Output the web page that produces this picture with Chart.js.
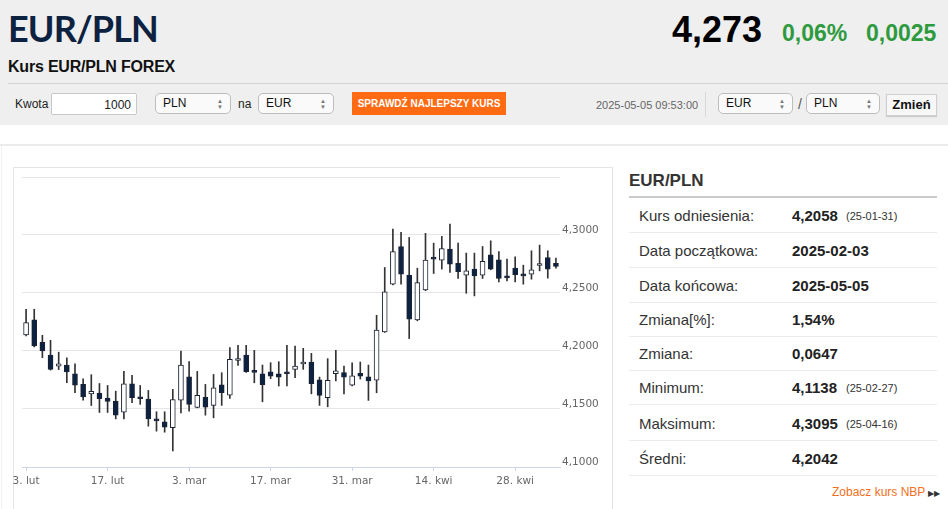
<!DOCTYPE html>
<html lang="pl">
<head>
<meta charset="utf-8">
<title>Kurs EUR/PLN FOREX</title>
<script src="https://cdn.jsdelivr.net/npm/chart.js@4.4.1/dist/chart.umd.min.js"></script>
<style>
  html, body { margin: 0; padding: 0; }
  body { width: 948px; height: 509px; position: relative; overflow: hidden; background: #fff;
         font-family: "Liberation Sans", Arial, sans-serif; color: #222; }
  .abs { position: absolute; white-space: nowrap; }
  #top { left: 0; top: 0; width: 948px; height: 125px; background: #efefef; }
  #title { left: 8px; top: 10px; font: 700 36px/1 Lato, sans-serif; letter-spacing: -0.9px; color: #0d2240; }
  #sub { left: 8px; top: 59px; font: 700 16px/1 "Liberation Sans", Arial, sans-serif; letter-spacing: -0.2px; color: #111; }
  #sep { left: 8px; top: 83px; width: 940px; height: 1px; background: #d4d4d4; }
  .lbl { font-size: 12px; line-height: 1; color: #222; }
  .box { background: #fff; border: 1px solid #c8c8c8; border-radius: 2px; box-sizing: border-box; }
  .sel { background: #fafafa; border: 1px solid #bdbdbd; border-radius: 5px; box-sizing: border-box;
         font-size: 12px; line-height: 19px; padding-left: 7px; color: #111; }
  .sel .ar { position: absolute; right: 7px; font-size: 6px; line-height: 1; color: #777; }
  .sel .up { top: 4px; }
  .sel .dn { top: 10px; }
  #btn { left: 352px; top: 92px; width: 154px; height: 23px; background: #ff6a13; color: #fff;
         font: 700 10px/23px "Liberation Sans", Arial, sans-serif; text-align: center; }
  #zm { left: 886px; top: 94px; width: 51px; height: 22px; background: #f7f7f7; border: 1px solid #cfcfcf;
        box-sizing: border-box; font: 700 13px/20px "Liberation Sans", Arial, sans-serif; text-align: center; color: #111;
        box-shadow: 0 1px 1px rgba(0,0,0,0.15); }
  #price { left: 672px; top: 12px; font: 700 36px/1 "Liberation Sans", Arial, sans-serif; color: #000; }
  .grn { top: 22px; font: 700 23px/1 "Liberation Sans", Arial, sans-serif; color: #2e9a3e; }
  #chartbox { left: 13px; top: 167px; width: 600px; height: 360px; border: 1px solid #e4e4e4; box-sizing: border-box; }
  #cwrap { left: 0px; top: 168px; width: 612px; height: 330px; }
  #ptitle { left: 629px; top: 172px; font: 700 17px/1 "Liberation Sans", Arial, sans-serif; color: #333; }
  #pline { left: 629px; top: 196px; width: 308px; height: 2px; background: #cacaca; }
  .row { left: 629px; width: 308px; height: 35px; border-bottom: 1px solid #ebebeb; box-sizing: border-box; }
  .row .k { position: absolute; left: 10px; top: 10px; font-size: 15px; line-height: 1; color: #333; }
  .row .v { position: absolute; left: 163px; top: 10px; font-size: 15px; line-height: 1; font-weight: 700; color: #222; }
  .row .d { position: absolute; left: 217px; top: 13px; font-size: 11px; line-height: 1; color: #333; }
  #nbp { left: 832px; top: 486px; font-size: 12px; line-height: 1; color: #f36f21; }
</style>
</head>
<body>
<div id="top" class="abs"></div>
<div id="title" class="abs">EUR/PLN</div>
<div id="sub" class="abs">Kurs EUR/PLN FOREX</div>
<div id="sep" class="abs"></div>

<div class="abs lbl" style="left:15px;top:98px;">Kwota</div>
<div class="abs box" style="left:51px;top:93px;width:86px;height:22px;">
  <span class="abs lbl" style="right:5px;top:5px;">1000</span>
</div>
<div class="abs sel" style="left:155px;top:93px;width:76px;height:21px;">PLN<span class="ar up">&#9650;</span><span class="ar dn">&#9660;</span></div>
<div class="abs lbl" style="left:238px;top:98px;">na</div>
<div class="abs sel" style="left:258px;top:93px;width:76px;height:21px;">EUR<span class="ar up">&#9650;</span><span class="ar dn">&#9660;</span></div>
<div id="btn" class="abs">SPRAWDŹ NAJLEPSZY KURS</div>

<div class="abs" style="left:596px;top:100px;font-size:11px;line-height:1;color:#666;">2025-05-05 09:53:00</div>
<div class="abs" style="left:705px;top:92px;width:1px;height:25px;background:#d8d8d8;"></div>
<div class="abs sel" style="left:718px;top:93px;width:75px;height:21px;">EUR<span class="ar up">&#9650;</span><span class="ar dn">&#9660;</span></div>
<div class="abs lbl" style="left:798px;top:97px;font-size:14px;color:#555;">/</div>
<div class="abs sel" style="left:806px;top:93px;width:74px;height:21px;">PLN<span class="ar up">&#9650;</span><span class="ar dn">&#9660;</span></div>
<div id="zm" class="abs">Zmień</div>

<div id="price" class="abs">4,273</div>
<div class="abs grn" style="left:782px;">0,06%</div>
<div class="abs grn" style="left:866px;">0,0025</div>

<div class="abs" style="left:0;top:144px;width:948px;height:2px;background:#ececec;"></div>
<div class="abs" style="left:1px;top:146px;width:1px;height:363px;background:#f0f0f0;"></div>
<div id="chartbox" class="abs"></div>
<div id="cwrap" class="abs"><canvas id="kurs"></canvas></div>

<div id="ptitle" class="abs">EUR/PLN</div>
<div id="pline" class="abs"></div>
<div class="abs row" style="top:198px;"><span class="k">Kurs odniesienia:</span><span class="v">4,2058</span><span class="d">(25-01-31)</span></div>
<div class="abs row" style="top:233px;"><span class="k">Data początkowa:</span><span class="v">2025-02-03</span></div>
<div class="abs row" style="top:268px;"><span class="k">Data końcowa:</span><span class="v">2025-05-05</span></div>
<div class="abs row" style="top:302px;"><span class="k">Zmiana[%]:</span><span class="v">1,54%</span></div>
<div class="abs row" style="top:336px;"><span class="k">Zmiana:</span><span class="v">0,0647</span></div>
<div class="abs row" style="top:370px;"><span class="k">Minimum:</span><span class="v">4,1138</span><span class="d">(25-02-27)</span></div>
<div class="abs row" style="top:406px;"><span class="k">Maksimum:</span><span class="v">4,3095</span><span class="d">(25-04-16)</span></div>
<div class="abs row" style="top:441px;"><span class="k">Średni:</span><span class="v">4,2042</span></div>
<div id="nbp" class="abs">Zobacz kurs NBP <span style="font-size:8px;color:#333;">&#9654;&#9654;</span></div>

<script>
// dni notowań (tylko dni robocze)
const dni = [
  '2025-02-03','2025-02-04','2025-02-05','2025-02-06','2025-02-07',
  '2025-02-10','2025-02-11','2025-02-12','2025-02-13','2025-02-14',
  '2025-02-17','2025-02-18','2025-02-19','2025-02-20','2025-02-21',
  '2025-02-24','2025-02-25','2025-02-26','2025-02-27','2025-02-28',
  '2025-03-03','2025-03-04','2025-03-05','2025-03-06','2025-03-07',
  '2025-03-10','2025-03-11','2025-03-12','2025-03-13','2025-03-14',
  '2025-03-17','2025-03-18','2025-03-19','2025-03-20','2025-03-21',
  '2025-03-24','2025-03-25','2025-03-26','2025-03-27','2025-03-28',
  '2025-03-31','2025-04-01','2025-04-02','2025-04-03','2025-04-04',
  '2025-04-07','2025-04-08','2025-04-09','2025-04-10','2025-04-11',
  '2025-04-14','2025-04-15','2025-04-16','2025-04-17','2025-04-18',
  '2025-04-21','2025-04-22','2025-04-23','2025-04-24','2025-04-25',
  '2025-04-28','2025-04-29','2025-04-30','2025-05-01','2025-05-02',
  '2025-05-05'
];

const otwarcie = [
  4.2138, 4.2268, 4.2075, 4.1965, 4.1870, 4.1879, 4.1804, 4.1712, 4.1631, 4.1637,
  4.1594, 4.1568, 4.1473, 4.1718, 4.1600, 4.1585, 4.1410, 4.1390, 4.1338, 4.1577,
  4.1778, 4.1513, 4.1600, 4.1531, 4.1709, 4.1620, 4.1918, 4.1965, 4.1824, 4.1804,
  4.1821, 4.1804, 4.1813, 4.1842, 4.1888, 4.1905, 4.1752, 4.1597, 4.1804, 4.1813,
  4.1706, 4.1807, 4.1778, 4.1749, 4.2164, 4.2576, 4.2901, 4.2654, 4.2268, 4.2527,
  4.2806, 4.2783, 4.2878, 4.2755, 4.2654, 4.2706, 4.2654, 4.2829, 4.2786, 4.2642,
  4.2714, 4.2654, 4.2662, 4.2737, 4.2806, 4.2755
];
const maks = [
  4.2360, 4.2360, 4.2135, 4.2092, 4.1990, 4.1942, 4.1890, 4.1760, 4.1796, 4.1720,
  4.1703, 4.1654, 4.1824, 4.1790, 4.1703, 4.1660, 4.1476, 4.1476, 4.1669, 4.2000,
  4.1908, 4.1824, 4.1712, 4.1798, 4.1813, 4.2029, 4.2049, 4.2049, 4.2006, 4.1879,
  4.1899, 4.1908, 4.2049, 4.2043, 4.2023, 4.1980, 4.1775, 4.1934, 4.2006, 4.1870,
  4.1899, 4.1905, 4.1879, 4.2308, 4.2720, 4.3051, 4.3022, 4.2979, 4.2714, 4.3014,
  4.2930, 4.2988, 4.3095, 4.2930, 4.2844, 4.2844, 4.2901, 4.2950, 4.2858, 4.2792,
  4.2812, 4.2740, 4.2864, 4.2913, 4.2864, 4.2801
];
const minim = [
  4.2130, 4.2035, 4.1942, 4.1835, 4.1840, 4.1726, 4.1640, 4.1577, 4.1530, 4.1470,
  4.1470, 4.1415, 4.1415, 4.1554, 4.1540, 4.1352, 4.1309, 4.1300, 4.1138, 4.1467,
  4.1482, 4.1510, 4.1447, 4.1424, 4.1531, 4.1591, 4.1876, 4.1815, 4.1726, 4.1562,
  4.1761, 4.1698, 4.1698, 4.1770, 4.1842, 4.1631, 4.1531, 4.1519, 4.1741, 4.1631,
  4.1700, 4.1758, 4.1574, 4.1640, 4.2160, 4.2570, 4.2576, 4.2107, 4.2260, 4.2520,
  4.2668, 4.2706, 4.2677, 4.2625, 4.2498, 4.2475, 4.2625, 4.2700, 4.2596, 4.2605,
  4.2596, 4.2576, 4.2619, 4.2691, 4.2628, 4.2714
];
const zamkniecie = [
  4.2245, 4.2043, 4.2000, 4.1842, 4.1890, 4.1819, 4.1706, 4.1605, 4.1652, 4.1588,
  4.1565, 4.1447, 4.1718, 4.1597, 4.1588, 4.1415, 4.1398, 4.1343, 4.1582, 4.1879,
  4.1539, 4.1617, 4.1516, 4.1683, 4.1640, 4.1928, 4.1926, 4.1821, 4.1816, 4.1709,
  4.1784, 4.1775, 4.1804, 4.1870, 4.1899, 4.1718, 4.1617, 4.1747, 4.1830, 4.1775,
  4.1787, 4.1784, 4.1741, 4.2181, 4.2510, 4.2858, 4.2662, 4.2274, 4.2590, 4.2783,
  4.2792, 4.2884, 4.2749, 4.2683, 4.2691, 4.2648, 4.2772, 4.2706, 4.2625, 4.2631,
  4.2657, 4.2648, 4.2700, 4.2745, 4.2706, 4.2729
];

// etykiety osi X (co 10 notowań)
const etykietyX = {
  '2025-02-03': '3. lut', '2025-02-17': '17. lut', '2025-03-03': '3. mar',
  '2025-03-17': '17. mar', '2025-03-31': '31. mar', '2025-04-14': '14. kwi',
  '2025-04-28': '28. kwi'
};
const osY = { min: 4.10, max: 4.35, krok: 0.05 };

const ciemny = '#0d2240';
const korpusy = dni.map((d, i) => [Math.min(otwarcie[i], zamkniecie[i]), Math.max(otwarcie[i], zamkniecie[i])]);
const knoty = dni.map((d, i) => [minim[i], maks[i]]);
const kolory = dni.map((d, i) => zamkniecie[i] < otwarcie[i] ? ciemny : '#ffffff');

const ctx = document.getElementById('kurs').getContext('2d');
new Chart(ctx, {
  type: 'bar',
  data: {
    labels: dni,
    datasets: [{
      label: 'korpus',
      data: korpusy,
      grouped: false,
      barThickness: 5,
      minBarLength: 2,
      backgroundColor: kolory,
      borderColor: '#1b2333',
      borderWidth: 1,
      borderSkipped: false
    }, {
      label: 'knot',
      data: knoty,
      grouped: false,
      barThickness: 1,
      backgroundColor: '#333333',
      borderWidth: 0
    }]
  },
  options: {
    responsive: true,
    maintainAspectRatio: false,
    animation: false,
    layout: { padding: { left: 22, top: 9, right: 0, bottom: 0 } },
    plugins: { legend: { display: false }, tooltip: { enabled: false } },
    scales: {
      x: {
        afterFit: s => { s.height = 31; },
        grid: {
          offset: false,
          drawOnChartArea: false,
          tickLength: 4,
          color: c => (c.tick && etykietyX[dni[c.index]]) ? '#ccd6eb' : 'rgba(0,0,0,0)'
        },
        border: { color: '#ccd6eb' },
        ticks: {
          autoSkip: false,
          maxRotation: 0,
          padding: 4,
          color: '#666',
          font: { family: 'DejaVu Sans', size: 10.5 },
          callback: (v, i) => etykietyX[dni[i]] || ''
        }
      },
      y: {
        position: 'right',
        min: osY.min,
        max: osY.max,
        afterFit: s => { s.width = 52; },
        grid: { color: '#e6e6e6', drawTicks: false },
        border: { display: false },
        ticks: {
          stepSize: osY.krok,
          padding: 2,
          labelOffset: -5,
          color: '#666',
          font: { family: 'DejaVu Sans', size: 10.5 },
          callback: v => v > osY.max - 0.001 ? '' : v.toFixed(4).replace('.', ',')
        }
      }
    }
  }
});
</script>
</body>
</html>
